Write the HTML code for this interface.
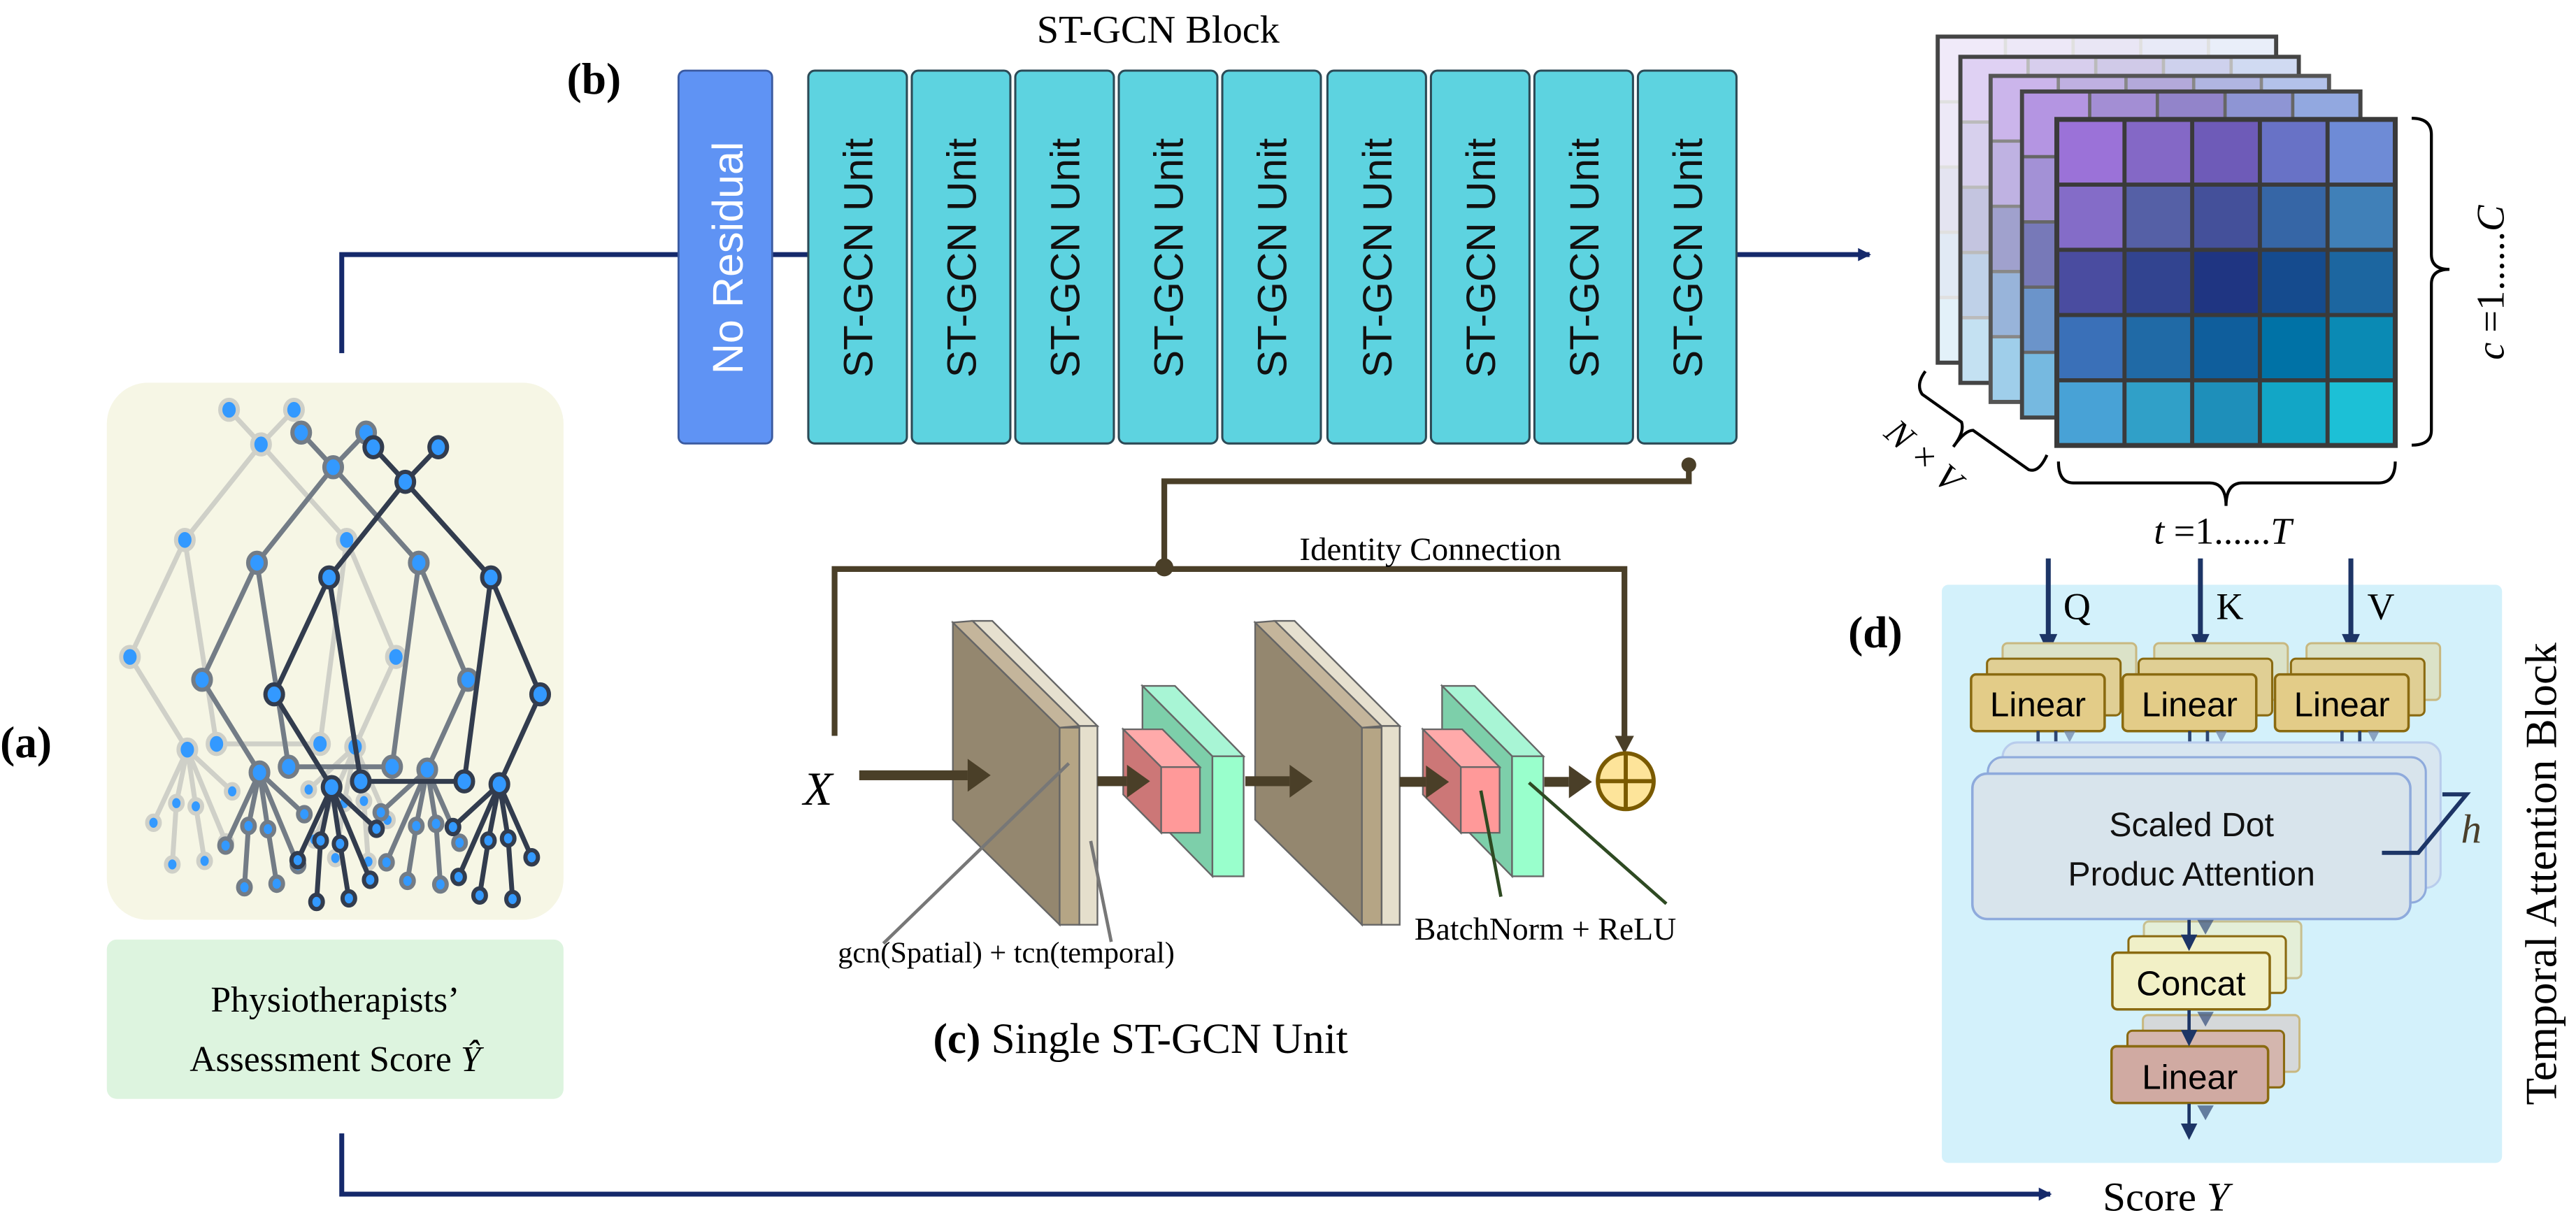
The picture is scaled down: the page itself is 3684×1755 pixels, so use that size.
<!DOCTYPE html>
<html><head><meta charset="utf-8"><style>
html,body{margin:0;padding:0;background:#fff}
svg{display:block}
.ser{font-family:"Liberation Serif",serif}
.san{font-family:"Liberation Sans",sans-serif}
</style></head><body>
<svg width="3684" height="1755" viewBox="0 0 1568 747" xmlns="http://www.w3.org/2000/svg">
<defs>
<marker id="nav" markerWidth="8" markerHeight="8" refX="7" refY="4" orient="auto" markerUnits="userSpaceOnUse"><path d="M0 0 L8 4 L0 8 z" fill="#15296b"/></marker>
<g id="tree">
<path fill="none" vector-effect="non-scaling-stroke" stroke-width="7" stroke-linejoin="round" d="M878 215 L980 312 L1085 215 M980 312 L737 580 L562 908 L745 1168 M737 580 L838 1152 L1168 1152 L1253 580 L980 312 M1253 580 L1410 908 L1280 1160 M745 1168 L888 1285 M745 1168 L868 1428 M745 1168 L772 1327 L800 1480 M745 1168 L710 1318 L697 1490 M745 1168 L637 1373 M1280 1160 L1132 1280 M1280 1160 L1150 1420 M1280 1160 L1245 1318 L1217 1472 M1280 1160 L1308 1312 L1322 1482 M1280 1160 L1383 1365"/>
<g fill="#3399ff" stroke-width="6">
<circle vector-effect="non-scaling-stroke" cx="878" cy="215" r="28"/><circle vector-effect="non-scaling-stroke" cx="1085" cy="215" r="28"/><circle vector-effect="non-scaling-stroke" cx="980" cy="312" r="28"/>
<circle vector-effect="non-scaling-stroke" cx="737" cy="580" r="28"/><circle vector-effect="non-scaling-stroke" cx="1253" cy="580" r="28"/>
<circle vector-effect="non-scaling-stroke" cx="562" cy="908" r="28"/><circle vector-effect="non-scaling-stroke" cx="1410" cy="908" r="28"/>
<circle vector-effect="non-scaling-stroke" cx="838" cy="1152" r="28"/><circle vector-effect="non-scaling-stroke" cx="1168" cy="1152" r="28"/>
<circle vector-effect="non-scaling-stroke" cx="745" cy="1168" r="28"/><circle vector-effect="non-scaling-stroke" cx="1280" cy="1160" r="28"/>
<circle vector-effect="non-scaling-stroke" cx="888" cy="1285" r="20"/><circle vector-effect="non-scaling-stroke" cx="868" cy="1428" r="20"/><circle vector-effect="non-scaling-stroke" cx="772" cy="1327" r="20"/><circle vector-effect="non-scaling-stroke" cx="800" cy="1480" r="20"/><circle vector-effect="non-scaling-stroke" cx="710" cy="1318" r="20"/><circle vector-effect="non-scaling-stroke" cx="697" cy="1490" r="20"/><circle vector-effect="non-scaling-stroke" cx="637" cy="1373" r="20"/>
<circle vector-effect="non-scaling-stroke" cx="1132" cy="1280" r="20"/><circle vector-effect="non-scaling-stroke" cx="1150" cy="1420" r="20"/><circle vector-effect="non-scaling-stroke" cx="1245" cy="1318" r="20"/><circle vector-effect="non-scaling-stroke" cx="1217" cy="1472" r="20"/><circle vector-effect="non-scaling-stroke" cx="1308" cy="1312" r="20"/><circle vector-effect="non-scaling-stroke" cx="1322" cy="1482" r="20"/><circle vector-effect="non-scaling-stroke" cx="1383" cy="1365" r="20"/>
</g>
</g>
<g id="grid">
<rect x="0" y="0" width="41.2" height="39.7" fill="#9b72d8"/><rect x="41.2" y="0" width="41.2" height="39.7" fill="#8468c6"/><rect x="82.4" y="0" width="41.2" height="39.7" fill="#6e5bb8"/><rect x="123.6" y="0" width="41.2" height="39.7" fill="#6872c6"/><rect x="164.8" y="0" width="41.2" height="39.7" fill="#6e8bd6"/>
<rect x="0" y="39.7" width="41.2" height="39.7" fill="#846cc8"/><rect x="41.2" y="39.7" width="41.2" height="39.7" fill="#5560a6"/><rect x="82.4" y="39.7" width="41.2" height="39.7" fill="#44509a"/><rect x="123.6" y="39.7" width="41.2" height="39.7" fill="#3666a6"/><rect x="164.8" y="39.7" width="41.2" height="39.7" fill="#4080b8"/>
<rect x="0" y="79.4" width="41.2" height="39.7" fill="#4a4ca0"/><rect x="41.2" y="79.4" width="41.2" height="39.7" fill="#324490"/><rect x="82.4" y="79.4" width="41.2" height="39.7" fill="#1f3582"/><rect x="123.6" y="79.4" width="41.2" height="39.7" fill="#154b8e"/><rect x="164.8" y="79.4" width="41.2" height="39.7" fill="#1c66a0"/>
<rect x="0" y="119.1" width="41.2" height="39.7" fill="#3a70b8"/><rect x="41.2" y="119.1" width="41.2" height="39.7" fill="#206aa6"/><rect x="82.4" y="119.1" width="41.2" height="39.7" fill="#0f5e9c"/><rect x="123.6" y="119.1" width="41.2" height="39.7" fill="#0072a6"/><rect x="164.8" y="119.1" width="41.2" height="39.7" fill="#0a8ab4"/>
<rect x="0" y="158.8" width="41.2" height="39.7" fill="#48a2d6"/><rect x="41.2" y="158.8" width="41.2" height="39.7" fill="#30a0c8"/><rect x="82.4" y="158.8" width="41.2" height="39.7" fill="#1e8fba"/><rect x="123.6" y="158.8" width="41.2" height="39.7" fill="#12a6c6"/><rect x="164.8" y="158.8" width="41.2" height="39.7" fill="#1cc0d6"/>
</g>
<path id="glines" d="M41.2 0V198.5M82.4 0V198.5M123.6 0V198.5M164.8 0V198.5M0 39.7H206M0 79.4H206M0 119.1H206M0 158.8H206" fill="none"/>
</defs>

<!-- (a) -->
<rect x="65" y="233" width="278" height="327" rx="25" fill="#f6f6e5"/>
<use href="#tree" transform="translate(59.6 225.6) scale(0.1909 0.2171) translate(-460 -105)" stroke="#cfd0c8"/>
<use href="#tree" transform="translate(59.6 225.6) scale(0.1909 0.2171) translate(-230 -41)" stroke="#737c86"/>
<use href="#tree" transform="translate(59.6 225.6) scale(0.1909 0.2171)" stroke="#323c4e"/>
<rect x="65" y="572" width="278" height="97" rx="6" fill="#ddf4df"/>
<text class="ser" x="204" y="616" font-size="22" text-anchor="middle">Physiotherapists’</text>
<text class="ser" x="204" y="652" font-size="22" text-anchor="middle">Assessment Score <tspan font-style="italic">Ŷ</tspan></text>
<text class="ser" x="0" y="461" font-size="27" font-weight="bold">(a)</text>

<!-- navy connectors -->
<path d="M208 215 V155 H413" fill="none" stroke="#15296b" stroke-width="3"/>
<path d="M470 155 H492" stroke="#15296b" stroke-width="3"/>
<path d="M1057 155 H1138" stroke="#15296b" stroke-width="3" marker-end="url(#nav)"/>
<path d="M208 690 V727 H1248" fill="none" stroke="#15296b" stroke-width="3" marker-end="url(#nav)"/>
<text class="ser" x="1280" y="737" font-size="25">Score <tspan font-style="italic">Y</tspan></text>

<!-- (b) -->
<text class="ser" x="345" y="57" font-size="27" font-weight="bold">(b)</text>
<text class="ser" x="705" y="26" font-size="24" text-anchor="middle">ST-GCN Block</text>
<rect x="413" y="43" width="57" height="227" rx="4" fill="#5f93f4" stroke="#3a5aa0" stroke-width="1.2"/>
<text class="san" transform="translate(452 157) rotate(-90)" font-size="26" fill="#fff" text-anchor="middle">No Residual</text>
<g fill="#5dd3e0" stroke="#2c4a56" stroke-width="1.3">
<rect x="492" y="43" width="60" height="227" rx="4"/><rect x="555" y="43" width="60" height="227" rx="4"/><rect x="618" y="43" width="60" height="227" rx="4"/><rect x="681" y="43" width="60" height="227" rx="4"/><rect x="744" y="43" width="60" height="227" rx="4"/><rect x="808" y="43" width="60" height="227" rx="4"/><rect x="871" y="43" width="60" height="227" rx="4"/><rect x="934" y="43" width="60" height="227" rx="4"/><rect x="997" y="43" width="60" height="227" rx="4"/>
</g>
<g class="san" font-size="25" text-anchor="middle" fill="#111">
<text transform="translate(531 157) rotate(-90)">ST-GCN Unit</text><text transform="translate(594 157) rotate(-90)">ST-GCN Unit</text><text transform="translate(657 157) rotate(-90)">ST-GCN Unit</text><text transform="translate(720 157) rotate(-90)">ST-GCN Unit</text><text transform="translate(783 157) rotate(-90)">ST-GCN Unit</text><text transform="translate(847 157) rotate(-90)">ST-GCN Unit</text><text transform="translate(910 157) rotate(-90)">ST-GCN Unit</text><text transform="translate(973 157) rotate(-90)">ST-GCN Unit</text><text transform="translate(1036 157) rotate(-90)">ST-GCN Unit</text>
</g>

<!-- (c) connectors -->
<g stroke="#4a3f28" stroke-width="3.5" fill="none">
<path d="M1028 283 V293 H708.7 V346"/>
<path d="M508 448 V346.4 H988.8 V448"/>
</g>
<circle cx="1028" cy="283" r="4.5" fill="#4a3f28"/>
<circle cx="708.7" cy="345.4" r="5.5" fill="#4a3f28"/>
<path d="M983 448 L994.6 448 L988.8 459 z" fill="#4a3f28"/>
<text class="ser" x="791" y="341" font-size="20">Identity Connection</text>
<text class="ser" x="489" y="490" font-size="29" font-style="italic">X</text>

<!-- slab 1 -->
<g stroke="#666" stroke-width="1">
<polygon points="580,379 645,443 645,563 580,499" fill="#94876f"/>
<polygon points="580,379 592,378 657,442 645,443" fill="#c4b59b"/>
<rect x="645" y="443" width="12" height="120" fill="#b5a585"/>
<polygon points="592,378 604,378 668,442 657,442" fill="#e6e0cf"/>
<rect x="657" y="442" width="11" height="121" fill="#e5dfcc"/>
</g>
<!-- slab 2 -->
<g stroke="#666" stroke-width="1" transform="translate(184 0)">
<polygon points="580,379 645,443 645,563 580,499" fill="#94876f"/>
<polygon points="580,379 592,378 657,442 645,443" fill="#c4b59b"/>
<rect x="645" y="443" width="12" height="120" fill="#b5a585"/>
<polygon points="592,378 604,378 668,442 657,442" fill="#e6e0cf"/>
<rect x="657" y="442" width="11" height="121" fill="#e5dfcc"/>
</g>
<!-- green + pink blocks -->
<g id="gp" stroke="#666" stroke-width="1">
<polygon points="695.4,417.6 715.2,417.6 757,460.4 738,460.4" fill="#a8f5d5"/>
<polygon points="695.4,417.6 738,460.4 738,533.5 695.4,490" fill="#7dcfaa"/>
<rect x="738" y="460.4" width="19" height="73.1" fill="#99ffcc"/>
<polygon points="683.7,444 707.6,444 730.4,467 706.8,467" fill="#ffaaaa"/>
<polygon points="683.7,444 706.8,467 706.8,507 683.7,483.7" fill="#cc7777"/>
<rect x="706.8" y="467" width="23.6" height="40" fill="#ff9999"/>
</g>
<use href="#gp" transform="translate(182.4 0)"/>
<!-- arrows -->
<g fill="#4a3f28" stroke="none">
<rect x="523" y="469" width="66" height="6"/><polygon points="589,462 603,472 589,482"/>
<rect x="668" y="472.6" width="18" height="6"/><polygon points="686,465.6 700,475.6 686,485.6"/>
<rect x="758" y="472.6" width="27" height="6"/><polygon points="785,465.6 799,475.6 785,485.6"/>
<rect x="852" y="473" width="16" height="6"/><polygon points="868,466 882,476 868,486"/>
<rect x="940" y="473" width="15" height="6"/><polygon points="955,466 969,476 955,486"/>
</g>
<ellipse cx="989.6" cy="475.6" rx="17" ry="17" fill="#fde49a" stroke="#7a5a00" stroke-width="2.5"/>
<path d="M972.6 475.6 H1006.6 M989.6 458.6 V492.6" stroke="#7a5a00" stroke-width="2.5"/>
<g stroke-width="2">
<path d="M650.6 464.7 L537.7 574.4 M663.9 512 L676.4 573.4" stroke="#777"/>
<path d="M901.4 481.3 L913.6 545.9 M930.7 476.5 L1014.3 550.2" stroke="#2e4a22"/>
</g>
<text class="ser" x="510" y="586" font-size="18">gcn(Spatial) + tcn(temporal)</text>
<text class="ser" x="861" y="572" font-size="19.5">BatchNorm + ReLU</text>
<text class="ser" x="568" y="641" font-size="26"><tspan font-weight="bold">(c)</tspan>  Single ST-GCN Unit</text>

<!-- matrices -->
<g>
<g transform="translate(1179.5 22.3)"><use href="#grid"/><rect width="206" height="198.5" fill="#fff" opacity="0.85"/><use href="#glines" stroke="#e0e0e0" stroke-width="2"/><rect width="206" height="198.5" fill="none" stroke="#444" stroke-width="2.5"/></g>
<g transform="translate(1193.3 34.6)"><use href="#grid"/><rect width="206" height="198.5" fill="#fff" opacity="0.68"/><use href="#glines" stroke="#bbb" stroke-width="2"/><rect width="206" height="198.5" fill="none" stroke="#444" stroke-width="2.5"/></g>
<g transform="translate(1211.7 46.2)"><use href="#grid"/><rect width="206" height="198.5" fill="#fff" opacity="0.48"/><use href="#glines" stroke="#888" stroke-width="2"/><rect width="206" height="198.5" fill="none" stroke="#555" stroke-width="2.5"/></g>
<g transform="translate(1230.8 55.7)"><use href="#grid"/><rect width="206" height="198.5" fill="#fff" opacity="0.25"/><use href="#glines" stroke="#666" stroke-width="2"/><rect width="206" height="198.5" fill="none" stroke="#444" stroke-width="2.5"/></g>
<g transform="translate(1252 72.7)"><use href="#grid"/><use href="#glines" stroke="#3a3a3a" stroke-width="2.5"/><rect width="206" height="198.5" fill="none" stroke="#3a3a3a" stroke-width="3"/></g>
</g>
<g fill="none" stroke="#000" stroke-width="1.8">
<path d="M1468 72 Q1480 72 1480 82 L1480 155 Q1480 164 1491 164 Q1480 164 1480 173 L1480 262 Q1480 271 1468 271"/>
<path d="M1253 281 Q1253 294 1262 294 L1345 294 Q1355 294 1355 308 Q1355 294 1365 294 L1448 294 Q1458 294 1458 281"/>
<path d="M1172 226 Q1166 234 1170 240 L1194 257 Q1196 263 1189 272 Q1196 262 1201 262 L1235 286 Q1241 288 1246 277"/>
</g>
<text class="ser" transform="translate(1524 172) rotate(-90)" font-size="24" text-anchor="middle"><tspan font-style="italic">c</tspan> =1......<tspan font-style="italic">C</tspan></text>
<text class="ser" x="1353" y="331" font-size="23" text-anchor="middle"><tspan font-style="italic">t</tspan> =1......<tspan font-style="italic">T</tspan></text>
<text class="ser" transform="translate(1166 283) rotate(42)" font-size="22" text-anchor="middle" font-style="italic">N × V</text>

<!-- (d) -->
<text class="ser" x="1125" y="394" font-size="27" font-weight="bold">(d)</text>
<rect x="1182" y="356" width="341" height="352" rx="4" fill="#d3f1fb"/>
<text class="ser" transform="translate(1556 532) rotate(-90)" font-size="27" text-anchor="middle">Temporal Attention Block</text>
<g stroke="#1d3566" stroke-width="3">
<path d="M1246.8 340 V388 M1339.4 340 V388 M1431 340 V388"/>
</g>
<g fill="#1d3566"><polygon points="1241.3,386 1252.3,386 1246.8,398"/><polygon points="1333.9,386 1344.9,386 1339.4,398"/><polygon points="1425.5,386 1436.5,386 1431,398"/></g>
<text class="ser" x="1256" y="377" font-size="23">Q</text>
<text class="ser" x="1349" y="377" font-size="23">K</text>
<text class="ser" x="1441" y="377" font-size="23">V</text>
<g id="lin">
<rect x="1219" y="391.6" width="81.3" height="34.5" rx="3" fill="#dbe2c8" stroke="#c8b880" stroke-width="1.3"/>
<rect x="1209.5" y="401" width="81.3" height="34.5" rx="3" fill="#e0cf94" stroke="#8a6a10" stroke-width="1.3"/>
<rect x="1199.8" y="410.6" width="81.3" height="34.5" rx="3" fill="#e3cc88" stroke="#8a6a10" stroke-width="1.5"/>
<text class="san" x="1240.5" y="436" font-size="21" text-anchor="middle">Linear</text>
<path d="M1240.6 445 V463 M1251.4 445 V456" stroke="#1d3566" stroke-width="2" opacity="0.9"/>
<polygon points="1235.6,461 1245.6,461 1240.6,471" fill="#1d3566"/>
<polygon points="1246.6,454 1256.2,454 1251.4,463" fill="#3d5580" opacity="0.8"/>
<polygon points="1256.2,445 1263.4,445 1259.8,452" fill="#6a80a8" opacity="0.7"/>
</g>
<use href="#lin" transform="translate(92.3 0)"/>
<use href="#lin" transform="translate(185 0)"/>
<rect x="1219" y="452" width="266.6" height="88.5" rx="9" fill="#d8e6f0" stroke="#b8ccec" stroke-width="1.3"/>
<rect x="1210" y="461" width="266.6" height="88.5" rx="9" fill="#d8e4ec" stroke="#8eaadc" stroke-width="1.3"/>
<rect x="1200.6" y="471" width="266.6" height="88.5" rx="9" fill="#d8e4ec" stroke="#8eaadc" stroke-width="1.5"/>
<text class="san" x="1334" y="509" font-size="20.5" text-anchor="middle" fill="#111">Scaled Dot</text>
<text class="san" x="1334" y="539" font-size="20.5" text-anchor="middle" fill="#111">Produc Attention</text>
<path d="M1449.9 519.2 H1472 L1501.4 483.6 H1486.7" fill="none" stroke="#1d3566" stroke-width="2.5"/>
<text class="ser" x="1498" y="513" font-size="25" font-style="italic" fill="#4a3f2a">h</text>
<rect x="1305" y="561" width="95.8" height="34.5" rx="3" fill="#e4efd8" stroke="#c8c090" stroke-width="1.3"/>
<rect x="1295.6" y="570" width="95.8" height="34.5" rx="3" fill="#f0f0c8" stroke="#8a6a10" stroke-width="1.3"/>
<rect x="1285.8" y="580" width="95.8" height="34.5" rx="3" fill="#f2f0c6" stroke="#8a6a10" stroke-width="1.5"/>
<text class="san" x="1333.7" y="606" font-size="21" text-anchor="middle">Concat</text>
<rect x="1304.4" y="618" width="95.3" height="34.5" rx="3" fill="#d5d8da" stroke="#c8b880" stroke-width="1.3"/>
<rect x="1295" y="627.5" width="95.3" height="34.5" rx="3" fill="#d4b6ae" stroke="#8a6a10" stroke-width="1.3"/>
<rect x="1285.3" y="637" width="95.3" height="34.5" rx="3" fill="#d0aaa2" stroke="#8a6a10" stroke-width="1.5"/>
<text class="san" x="1333" y="663" font-size="21" text-anchor="middle">Linear</text>
<g stroke="#1d3566" stroke-width="2">
<path d="M1332.5 560 V571 M1332.5 615 V628 M1332.5 672 V684"/>
</g>
<g fill="#1d3566">
<polygon points="1327.5,569 1337.5,569 1332.5,579"/><polygon points="1327.5,627 1337.5,627 1332.5,637"/><polygon points="1327.5,684 1337.5,684 1332.5,694"/>
</g>
<g fill="#3d5580" opacity="0.75">
<polygon points="1337.5,560 1347.5,560 1342.5,569"/><polygon points="1337.5,616 1347.5,616 1342.5,625"/><polygon points="1337.5,673 1347.5,673 1342.5,682"/>
</g>
</svg>
</body></html>
